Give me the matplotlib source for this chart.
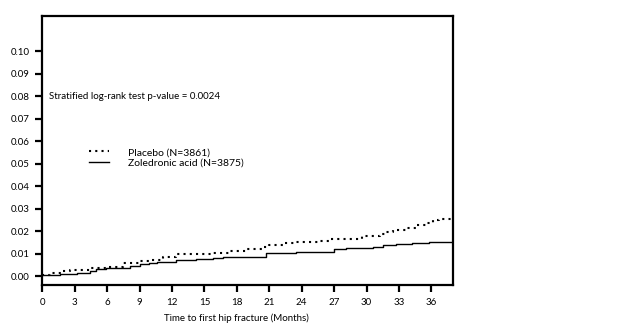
import matplotlib
matplotlib.use("Agg")
import matplotlib.pyplot as plt

# Cumulative incidence of first hip fracture (step curves)
placebo_months = [0, 0.7, 1.9, 2.6, 4.4, 5.9, 7.5, 9.0, 9.9, 11.2, 12.4, 15.8, 17.3,
                  18.9, 20.4, 21.0, 22.3, 23.5, 25.6, 26.6, 28.4, 29.6, 31.2, 31.8,
                  32.4, 33.6, 34.6, 35.5, 36.1, 36.7, 37.9]
placebo_rate = [0.0003, 0.0012, 0.0022, 0.0027, 0.0035, 0.0042, 0.0056, 0.0067, 0.0071,
                0.0083, 0.0096, 0.0101, 0.0113, 0.0120, 0.0130, 0.0138, 0.0145, 0.0151,
                0.0157, 0.0164, 0.0167, 0.0178, 0.0185, 0.0197, 0.0207, 0.0216, 0.0227,
                0.0237, 0.0249, 0.0256, 0.0256]

zol_months = [0, 1.6, 3.2, 4.4, 5.0, 5.9, 8.1, 9.0, 9.9, 10.6, 12.4, 14.2, 15.8, 16.7,
              20.2, 20.7, 22.3, 23.5, 27.0, 28.1, 30.6, 31.5, 32.7, 34.2, 35.8, 37.9]
zol_rate = [0.0003, 0.0009, 0.0015, 0.0024, 0.0031, 0.0036, 0.0044, 0.0053, 0.0056,
            0.0062, 0.0071, 0.0076, 0.0080, 0.0084, 0.0087, 0.0101, 0.0104, 0.0108,
            0.0119, 0.0126, 0.0130, 0.0138, 0.0141, 0.0145, 0.0150, 0.0150]

x_ticks = list(range(0, 37, 3))
y_ticks = [i / 100 for i in range(0, 11)]
y_tick_labels = [f"{v:.2f}" for v in y_ticks]

placebo_label = "Placebo (N=3861)"
zol_label = "Zoledronic acid (N=3875)"
pvalue_text = "Stratified log-rank test p-value = 0.0024"
x_label = "Time to first hip fracture (Months)"

plt.rcParams["font.family"] = ["Lato", "DejaVu Sans"]

fig = plt.figure(figsize=(6.4, 3.35), dpi=100)
ax = fig.add_axes([0.066, 0.149, 0.642, 0.803])

ax.step(placebo_months, placebo_rate, where="post", color="black",
        linestyle=(0, (1.0, 2.0)), linewidth=1.5, label=placebo_label)
ax.step(zol_months, zol_rate, where="post", color="black",
        linestyle="-", linewidth=1.0, label=zol_label)

ax.set_xlim(0, 38)
ax.set_ylim(-0.004, 0.1156)
ax.set_xticks(x_ticks)
ax.set_yticks(y_ticks)
ax.set_yticklabels(y_tick_labels)

for s in ax.spines.values():
    s.set_linewidth(1.6)
ax.tick_params(direction="out", length=5, width=1.6, labelsize=7, pad=4)
ax.set_xlabel(x_label, fontsize=7)
ax.xaxis.set_label_coords(0.472, -0.105)

ax.text(0.6, 0.08, pvalue_text, fontsize=7, va="center")

leg = ax.legend(loc="upper left", bbox_to_anchor=(0.09, 0.545), frameon=False,
                fontsize=7.5, handlelength=2.0, handletextpad=1.8, labelspacing=0.15)

fig.savefig("out.png", dpi=100)
